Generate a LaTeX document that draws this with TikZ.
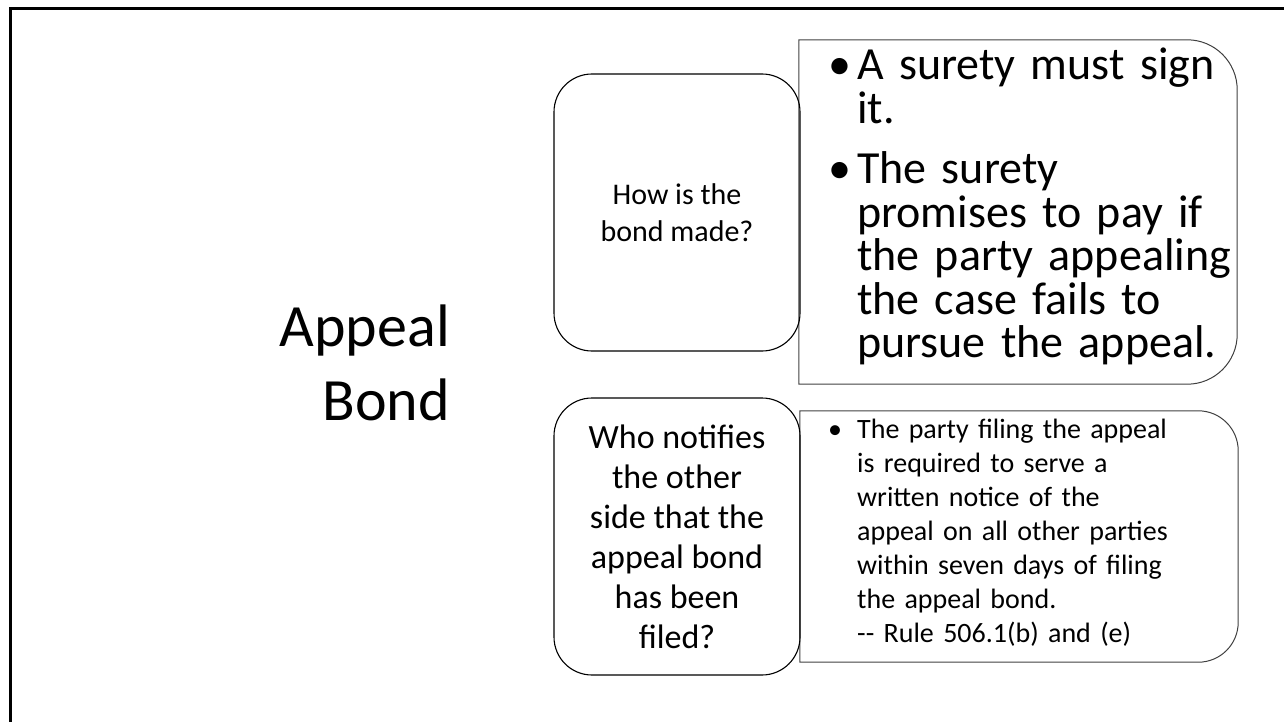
\documentclass[tikz,border=0pt]{standalone}
\usepackage{fontspec}
\setmainfont{Carlito}
\newcommand\bulitem[1]{\hangindent=29pt\hangafter=1\noindent\makebox[29pt][l]{\textbullet}#1\par}
\begin{document}
\begin{tikzpicture}[x=1pt,y=-1pt,
  frame/.style={line width=3pt, draw=black},
  qbox/.style={draw=black, line width=1.1pt, rounded corners=38pt, align=center,
    inner sep=0pt, minimum width=246pt, minimum height=277pt},
  abox/.style={draw=black!75, line width=1pt},
  holder/.style={inner sep=0pt},
  atext/.style={inner sep=0pt, anchor=base west, text width=405pt}
]
\useasboundingbox (0,0) rectangle (1284,722);
\draw[frame] (10.5,722) -- (10.5,9) -- (1284,9);

% title
\node[inner sep=0pt, anchor=east, align=right, font=\fontsize{60}{74}\selectfont] (title) at (450,362.5) {Appeal\\Bond};

% right boxes (outlines)
\node[holder, minimum width=438pt, minimum height=344pt] (a1) at (1018,212) {};
\draw[abox] (a1.north west) -- ([xshift=-50pt]a1.north east)
  arc[start angle=90, end angle=0, radius=50pt] -- ([yshift=50pt]a1.south east)
  arc[start angle=0, end angle=-90, radius=50pt] -- (a1.south west) -- cycle;

\node[holder, minimum width=438pt, minimum height=251pt] (a2) at (1019,536.5) {};
\draw[abox] (a2.north west) -- ([xshift=-40pt]a2.north east)
  arc[start angle=90, end angle=0, radius=40pt] -- ([yshift=40pt]a2.south east)
  arc[start angle=0, end angle=-90, radius=40pt] -- (a2.south west) -- cycle;

% left question boxes
\node[qbox, font=\fontsize{30}{37}\selectfont] (q1) at (677,212.5) {How is the\\bond made?};
\node[qbox, font=\fontsize{34}{40}\selectfont] (q2) at (677,536.5) {Who notifies\\the other\\side that the\\appeal bond\\has been\\filed?};

% answer texts
\node[atext, font=\fontsize{46}{43.5}\selectfont] (t1) at (828,80) {%
\setlength\parskip{0pt}\raggedright
\bulitem{A surety must sign\newline it.}
\vspace{17pt}
\bulitem{The surety\newline promises to pay if\newline the party appealing\newline the case fails to\newline pursue the appeal.}};

\node[atext, font=\fontsize{28}{34}\selectfont] (t2) at (828,438) {%
\setlength\parskip{0pt}\raggedright
\bulitem{The party filing the appeal\newline is required to serve a\newline written notice of the\newline appeal on all other parties\newline within seven days of filing\newline the appeal bond.\newline -{}- Rule 506.1(b) and (e)}};
\end{tikzpicture}
\end{document}
